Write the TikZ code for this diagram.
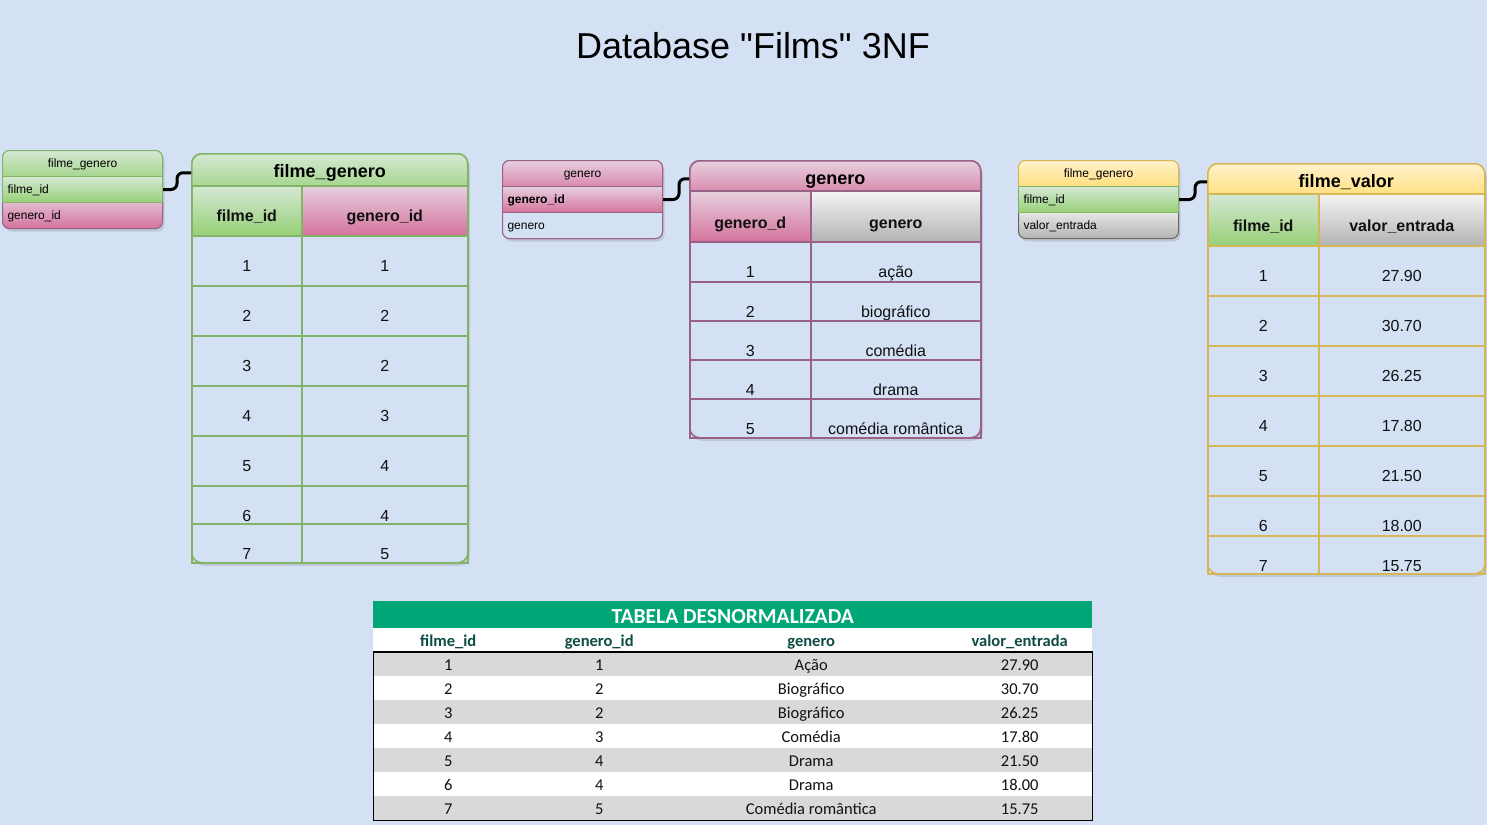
\documentclass[tikz,border=0pt]{standalone}
\usepackage{fontspec}
\setmainfont{Liberation Sans}
\newfontfamily\calibri{Carlito}
\usetikzlibrary{shadows}

\definecolor{bgblue}{HTML}{D4E1F5}
\definecolor{grnline}{HTML}{82B366}
\definecolor{grntop}{HTML}{D5E8D4}
\definecolor{grnbot}{HTML}{97D077}
\definecolor{pnkline}{HTML}{996185}
\definecolor{pnktop}{HTML}{E6D0DE}
\definecolor{pnkbot}{HTML}{D5739D}
\definecolor{ylwline}{HTML}{D6B656}
\definecolor{ylwtop}{HTML}{FFF2CC}
\definecolor{ylwbot}{HTML}{FFD966}
\definecolor{gryline}{HTML}{666666}
\definecolor{grytop}{HTML}{F5F5F5}
\definecolor{grybot}{HTML}{B3B3B3}
\definecolor{xlgreen}{HTML}{00A676}
\definecolor{xlhead}{HTML}{0D4D45}
\definecolor{xlgray}{HTML}{D9D9D9}
\definecolor{xltext}{HTML}{111111}

\begin{document}
\begin{tikzpicture}[x=1pt, y=-1pt,
    cell/.style={anchor=north west, draw=#1, line width=1.5pt, inner sep=0pt, text height=36pt, text=xltext, font=\fontsize{16}{16}\selectfont},
    colhead/.style={cell=#1, font=\bfseries\fontsize{16}{16}\selectfont},
    tabhead/.style={anchor=north west, draw=#1, line width=1.5pt, rounded corners=10pt, inner sep=0pt, text height=23.5pt, font=\bfseries\fontsize{18}{18}\selectfont},
    tabframe/.style={anchor=north west, draw=#1, line width=1.5pt, rounded corners=10pt, fill=bgblue, drop shadow={shadow xshift=2pt, shadow yshift=-3pt, opacity=.25}},
    entframe/.style={anchor=north west, draw=#1, line width=1pt, rounded corners=7pt, fill=bgblue, minimum width=160pt, minimum height=78pt, drop shadow={shadow xshift=2pt, shadow yshift=-3pt, opacity=.25}},
    entrow/.style={anchor=north west, draw=#1, line width=1pt, inner xsep=5pt, inner ysep=0pt, text width=150pt, align=left, font=\fontsize{12}{12}\selectfont},
    grnfill/.style={top color=grntop, bottom color=grnbot},
    pnkfill/.style={top color=pnktop, bottom color=pnkbot},
    ylwfill/.style={top color=ylwtop, bottom color=ylwbot},
    gryfill/.style={top color=grytop, bottom color=grybot},
    link/.style={draw=black, line width=3pt, rounded corners=6pt},
    xlcell/.style={anchor=north west, inner sep=0pt, minimum height=24pt, text height=12pt, text depth=0pt, text=xltext, font=\calibri\fontsize{16.5}{18}\selectfont},
    xlhd/.style={xlcell, fill=white, text=xlhead, font=\calibri\bfseries\fontsize{16.5}{18}\selectfont}]

    \useasboundingbox (0,0) rectangle (1487,825);
    \fill[bgblue] (0,0) rectangle (1487,825);

    \node[font=\fontsize{36}{36}\selectfont] (title) at (753,46) {Database \textquotedbl Films\textquotedbl{} 3NF};

    % filme_genero
    \node[entframe=grnline] (s1) at (2,150) {};
    \node[entrow=grnline, grnfill, rounded corners=7pt, align=center, text height=17.3pt, text depth=16.7pt] (s1head) at (2,150) {filme\_genero};
    \node[entrow=pnkline, pnkfill, rounded corners=7pt, text height=25.3pt, text depth=8.7pt] (s1r2) at (2,194) {genero\_id};
    \node[entrow=grnline, grnfill, text height=17.3pt, text depth=8.7pt] (s1r1) at (2,176) {filme\_id};

    \node[tabframe=grnline, minimum width=276pt, minimum height=409pt] (fg) at (191,153) {};
    \node[tabhead=grnline, grnfill, minimum width=276pt, text depth=20.5pt] (fghead) at (191,153) {filme\_genero};
    \node[colhead=grnline, grnfill, minimum width=110pt, text depth=14pt] (fgc1) at (191,185) {filme\_id};
    \node[colhead=grnline, pnkfill, minimum width=166pt, text depth=14pt] (fgc2) at (301,185) {genero\_id};
    \node[cell=grnline, minimum width=110pt, text depth=14pt] (fga1) at (191,235) {1};
    \node[cell=grnline, minimum width=166pt, text depth=14pt] (fgb1) at (301,235) {1};
    \node[cell=grnline, minimum width=110pt, text depth=14pt] (fga2) at (191,285) {2};
    \node[cell=grnline, minimum width=166pt, text depth=14pt] (fgb2) at (301,285) {2};
    \node[cell=grnline, minimum width=110pt, text depth=14pt] (fga3) at (191,335) {3};
    \node[cell=grnline, minimum width=166pt, text depth=14pt] (fgb3) at (301,335) {2};
    \node[cell=grnline, minimum width=110pt, text depth=14pt] (fga4) at (191,385) {4};
    \node[cell=grnline, minimum width=166pt, text depth=14pt] (fgb4) at (301,385) {3};
    \node[cell=grnline, minimum width=110pt, text depth=14pt] (fga5) at (191,435) {5};
    \node[cell=grnline, minimum width=166pt, text depth=14pt] (fgb5) at (301,435) {4};
    \node[cell=grnline, minimum width=110pt, text depth=2pt] (fga6) at (191,485) {6};
    \node[cell=grnline, minimum width=166pt, text depth=2pt] (fgb6) at (301,485) {4};
    \node[cell=grnline, minimum width=110pt, text depth=3pt] (fga7) at (191,523) {7};
    \node[cell=grnline, minimum width=166pt, text depth=3pt] (fgb7) at (301,523) {5};

    \draw[link] (s1r1.east) -- ++(14,0) |- ([yshift=3pt]fghead.west);

    % genero
    \node[entframe=pnkline] (s2) at (502,160) {};
    \node[entrow=pnkline, pnkfill, rounded corners=7pt, align=center, text height=17.3pt, text depth=16.7pt] (s2head) at (502,160) {genero};
    \node[entrow=pnkline, fill=bgblue, rounded corners=7pt, text height=25.3pt, text depth=8.7pt] (s2r2) at (502,204) {genero};
    \node[entrow=pnkline, pnkfill, font=\bfseries\fontsize{12}{12}\selectfont, text height=17.3pt, text depth=8.7pt] (s2r1) at (502,186) {genero\_id};

    \node[tabframe=pnkline, minimum width=291pt, minimum height=277pt] (gn) at (689,160) {};
    \node[tabhead=pnkline, pnkfill, minimum width=291pt, text depth=18.5pt] (gnhead) at (689,160) {genero};
    \node[colhead=pnkline, pnkfill, minimum width=121pt, text height=37.5pt, text depth=13.5pt] (gnc1) at (689,190) {genero\_d};
    \node[colhead=pnkline, gryfill, minimum width=170pt, text height=37.5pt, text depth=13.5pt] (gnc2) at (810,190) {genero};
    \node[cell=pnkline, minimum width=121pt, text depth=4pt] (gna1) at (689,241) {1};
    \node[cell=pnkline, minimum width=170pt, text depth=4pt] (gnb1) at (810,241) {ação};
    \node[cell=pnkline, minimum width=121pt, text depth=3pt] (gna2) at (689,281) {2};
    \node[cell=pnkline, minimum width=170pt, text depth=3pt] (gnb2) at (810,281) {biográfico};
    \node[cell=pnkline, minimum width=121pt, text depth=3pt] (gna3) at (689,320) {3};
    \node[cell=pnkline, minimum width=170pt, text depth=3pt] (gnb3) at (810,320) {comédia};
    \node[cell=pnkline, minimum width=121pt, text depth=3pt] (gna4) at (689,359) {4};
    \node[cell=pnkline, minimum width=170pt, text depth=3pt] (gnb4) at (810,359) {drama};
    \node[cell=pnkline, minimum width=121pt, text depth=3pt] (gna5) at (689,398) {5};
    \node[cell=pnkline, minimum width=170pt, text depth=3pt] (gnb5) at (810,398) {comédia romântica};

    \draw[link] (s2r1.east) -- ++(16,0) |- ([yshift=3pt]gnhead.west);

    % filme_valor
    \node[entframe=ylwline] (s3) at (1018,160) {};
    \node[entrow=ylwline, ylwfill, rounded corners=7pt, align=center, text height=17.3pt, text depth=16.7pt] (s3head) at (1018,160) {filme\_genero};
    \node[entrow=gryline, gryfill, rounded corners=7pt, text height=25.3pt, text depth=8.7pt] (s3r2) at (1018,204) {valor\_entrada};
    \node[entrow=grnline, grnfill, text height=17.3pt, text depth=8.7pt] (s3r1) at (1018,186) {filme\_id};

    \node[tabframe=ylwline, minimum width=277pt, minimum height=410pt] (fv) at (1207,163) {};
    \node[tabhead=ylwline, ylwfill, minimum width=277pt, text depth=18.5pt] (fvhead) at (1207,163) {filme\_valor};
    \node[colhead=ylwline, grnfill, minimum width=111pt, text height=37.5pt, text depth=14.5pt] (fvc1) at (1207,193) {filme\_id};
    \node[colhead=ylwline, gryfill, minimum width=166pt, text height=37.5pt, text depth=14.5pt] (fvc2) at (1318,193) {valor\_entrada};
    \node[cell=ylwline, minimum width=111pt, text depth=14pt] (fva1) at (1207,245) {1};
    \node[cell=ylwline, minimum width=166pt, text depth=14pt] (fvb1) at (1318,245) {27.90};
    \node[cell=ylwline, minimum width=111pt, text depth=14pt] (fva2) at (1207,295) {2};
    \node[cell=ylwline, minimum width=166pt, text depth=14pt] (fvb2) at (1318,295) {30.70};
    \node[cell=ylwline, minimum width=111pt, text depth=14pt] (fva3) at (1207,345) {3};
    \node[cell=ylwline, minimum width=166pt, text depth=14pt] (fvb3) at (1318,345) {26.25};
    \node[cell=ylwline, minimum width=111pt, text depth=14pt] (fva4) at (1207,395) {4};
    \node[cell=ylwline, minimum width=166pt, text depth=14pt] (fvb4) at (1318,395) {17.80};
    \node[cell=ylwline, minimum width=111pt, text depth=14pt] (fva5) at (1207,445) {5};
    \node[cell=ylwline, minimum width=166pt, text depth=14pt] (fvb5) at (1318,445) {21.50};
    \node[cell=ylwline, minimum width=111pt, text depth=4pt] (fva6) at (1207,495) {6};
    \node[cell=ylwline, minimum width=166pt, text depth=4pt] (fvb6) at (1318,495) {18.00};
    \node[cell=ylwline, minimum width=111pt, text depth=2pt] (fva7) at (1207,535) {7};
    \node[cell=ylwline, minimum width=166pt, text depth=2pt] (fvb7) at (1318,535) {15.75};

    \draw[link] (s3r1.east) -- ++(16,0) |- ([yshift=3pt]fvhead.west);

    % tabela desnormalizada
    \node[anchor=north west, fill=xlgreen, minimum width=719pt, minimum height=27pt, inner sep=0pt, text height=18.5pt, text depth=0pt, text=white, font=\calibri\bfseries\fontsize{21.5}{22}\selectfont] (xltitle) at (373,601) {TABELA DESNORMALIZADA};
    \node[xlhd, minimum width=150pt] (xlh1) at (373,628) {filme\_id};
    \node[xlhd, minimum width=152pt] (xlh2) at (523,628) {genero\_id};
    \node[xlhd, minimum width=272pt] (xlh3) at (675,628) {genero};
    \node[xlhd, minimum width=145pt] (xlh4) at (947,628) {valor\_entrada};

    \node[xlcell, fill=xlgray, minimum width=150pt] (xla1) at (373,652) {1};
    \node[xlcell, fill=xlgray, minimum width=152pt] (xlb1) at (523,652) {1};
    \node[xlcell, fill=xlgray, minimum width=272pt] (xlc1) at (675,652) {Ação};
    \node[xlcell, fill=xlgray, minimum width=145pt] (xld1) at (947,652) {27.90};
    \node[xlcell, fill=white, minimum width=150pt] (xla2) at (373,676) {2};
    \node[xlcell, fill=white, minimum width=152pt] (xlb2) at (523,676) {2};
    \node[xlcell, fill=white, minimum width=272pt] (xlc2) at (675,676) {Biográfico};
    \node[xlcell, fill=white, minimum width=145pt] (xld2) at (947,676) {30.70};
    \node[xlcell, fill=xlgray, minimum width=150pt] (xla3) at (373,700) {3};
    \node[xlcell, fill=xlgray, minimum width=152pt] (xlb3) at (523,700) {2};
    \node[xlcell, fill=xlgray, minimum width=272pt] (xlc3) at (675,700) {Biográfico};
    \node[xlcell, fill=xlgray, minimum width=145pt] (xld3) at (947,700) {26.25};
    \node[xlcell, fill=white, minimum width=150pt] (xla4) at (373,724) {4};
    \node[xlcell, fill=white, minimum width=152pt] (xlb4) at (523,724) {3};
    \node[xlcell, fill=white, minimum width=272pt] (xlc4) at (675,724) {Comédia};
    \node[xlcell, fill=white, minimum width=145pt] (xld4) at (947,724) {17.80};
    \node[xlcell, fill=xlgray, minimum width=150pt] (xla5) at (373,748) {5};
    \node[xlcell, fill=xlgray, minimum width=152pt] (xlb5) at (523,748) {4};
    \node[xlcell, fill=xlgray, minimum width=272pt] (xlc5) at (675,748) {Drama};
    \node[xlcell, fill=xlgray, minimum width=145pt] (xld5) at (947,748) {21.50};
    \node[xlcell, fill=white, minimum width=150pt] (xla6) at (373,772) {6};
    \node[xlcell, fill=white, minimum width=152pt] (xlb6) at (523,772) {4};
    \node[xlcell, fill=white, minimum width=272pt] (xlc6) at (675,772) {Drama};
    \node[xlcell, fill=white, minimum width=145pt] (xld6) at (947,772) {18.00};
    \node[xlcell, fill=xlgray, minimum width=150pt] (xla7) at (373,796) {7};
    \node[xlcell, fill=xlgray, minimum width=152pt] (xlb7) at (523,796) {5};
    \node[xlcell, fill=xlgray, minimum width=272pt] (xlc7) at (675,796) {Comédia romântica};
    \node[xlcell, fill=xlgray, minimum width=145pt] (xld7) at (947,796) {15.75};

    \node[anchor=north west, draw=black, line width=1.3pt, minimum width=719pt, minimum height=168pt, inner sep=0pt] (xlbox) at (373,652) {};
    \draw[line width=2pt] (xlbox.north west) -- (xlbox.north east);

\end{tikzpicture}
\end{document}
